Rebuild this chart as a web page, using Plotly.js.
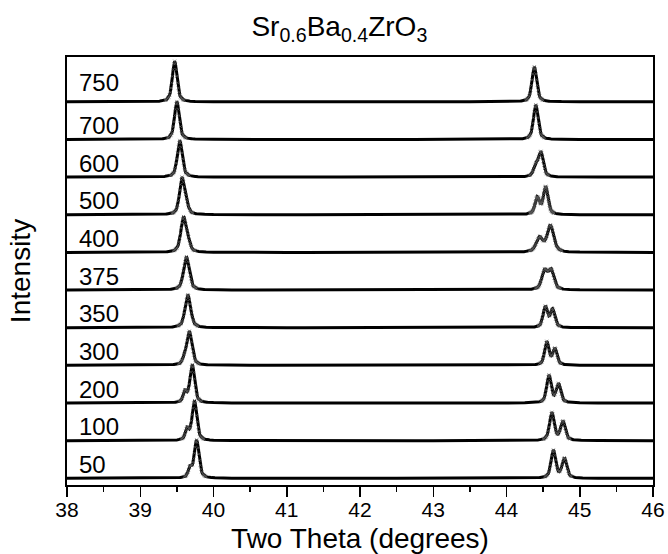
<!DOCTYPE html>
<html>
<head>
<meta charset="utf-8">
<script src="https://cdn.plot.ly/plotly-3.0.1.min.js"></script>
<style>html,body{margin:0;padding:0;background:#fff;}#chart{width:668px;height:554px;}</style>
</head>
<body>
<div id="chart"></div>
<script>
// Sample temperatures (bottom to top)
const temps = ['50','100','200','300','350','375','400','500','600','700','750'];

// Peak near 39.5-39.8 deg
const peakA_pos    = [39.77, 39.74, 39.71, 39.67, 39.65, 39.63, 39.59, 39.57, 39.54, 39.50, 39.47];
const peakA_height = [1.01, 1.055, 1.01, 0.90, 0.88, 0.89, 0.91, 0.965, 0.975, 1.01, 1.08];
const peakA_width  = [0.075, 0.075, 0.075, 0.085, 0.09, 0.09, 0.085, 0.08, 0.08, 0.075, 0.075];
// Shoulder of that peak
const shoulderA_pos    = [39.68, 39.64, 39.61, 39.60, 39.65, 39.63, 39.65, 39.63, 39.54, 39.50, 39.47];
const shoulderA_height = [0.24, 0.28, 0.27, 0.10, 0, 0, 0.22, 0.18, 0, 0, 0];
const shoulderA_width  = [0.06, 0.06, 0.06, 0.06, 0.07, 0.07, 0.07, 0.07, 0.07, 0.07, 0.07];

// Doublet near 44.4-44.8 deg
const peakB1_pos    = [44.64, 44.62, 44.58, 44.55, 44.53, 44.52, 44.45, 44.42, 44.40, 44.40, 44.38];
const peakB1_height = [0.737, 0.74, 0.73, 0.62, 0.545, 0.49, 0.38, 0.44, 0.28, 0.92, 0.93];
const peakB2_pos    = [44.79, 44.77, 44.71, 44.66, 44.63, 44.61, 44.60, 44.535, 44.47, 44.40, 44.38];
const peakB2_height = [0.527, 0.51, 0.50, 0.435, 0.467, 0.50, 0.71, 0.735, 0.64, 0, 0];
const peakB_width   = [0.075, 0.075, 0.072, 0.07, 0.072, 0.09, 0.105, 0.075, 0.075, 0.075, 0.075];

// Normalised peak profile (offset in FWHM units, relative height)
const profileU = [-8, -5, -3, -2, -1.5, -1, -0.75, -0.5, -0.3, -0.15, 0, 0.15, 0.3, 0.5, 0.75, 1, 1.5, 2, 3, 5, 8];
const profileV = [0.0, 0.005, 0.0135, 0.029, 0.051, 0.131, 0.259, 0.5, 0.757, 0.928, 1, 0.928, 0.757, 0.5, 0.259, 0.131, 0.051, 0.029, 0.0135, 0.005, 0.0];

const xTickVals = [38, 39, 40, 41, 42, 43, 44, 45, 46];

function profile(u) {
  if (u <= profileU[0] || u >= profileU[profileU.length - 1]) return 0;
  for (let k = 0; k < profileU.length - 1; k++) {
    if (u >= profileU[k] && u <= profileU[k + 1]) {
      const t = (u - profileU[k]) / (profileU[k + 1] - profileU[k]);
      return profileV[k] + t * (profileV[k + 1] - profileV[k]);
    }
  }
  return 0;
}

const FONT = 'Liberation Sans, Arial, Helvetica, sans-serif';
const traces = [];
const annotations = [];

temps.forEach((lab, i) => {
  const peaks = [
    [peakA_pos[i], peakA_height[i], peakA_width[i]],
    [shoulderA_pos[i], shoulderA_height[i], shoulderA_width[i]],
    [peakB1_pos[i], peakB1_height[i], peakB_width[i]],
    [peakB2_pos[i], peakB2_height[i], peakB_width[i]]
  ].filter(p => p[1] > 0);
  const set = new Set();
  for (let k = 0; k <= 32; k++) set.add((38 + k * 0.25).toFixed(3));
  peaks.forEach(p => {
    for (let j = -25; j <= 25; j++) set.add((p[0] + j * 0.01).toFixed(3));
  });
  const xs = Array.from(set).map(Number).filter(v => v >= 38 && v <= 46).sort((a, b) => a - b);
  const ys = xs.map(x => {
    let s = i;
    peaks.forEach(p => { s += p[1] * profile((x - p[0]) / p[2]); });
    return s;
  });
  const msize = ys.map(v => (v - i > 0.04 ? 3 : 0));
  traces.push({
    x: xs, y: ys, type: 'scatter', mode: 'lines+markers',
    line: {color: '#000', width: 3},
    marker: {symbol: 'x-thin-open', size: msize, color: '#555', line: {color: '#555', width: 1}},
    showlegend: false, hoverinfo: 'skip'
  });
  annotations.push({
    x: 38.14, y: i, xref: 'x', yref: 'y', xanchor: 'left', yanchor: 'middle',
    yshift: (lab === '750') ? 19 : 14,
    text: lab, showarrow: false, font: {family: FONT, size: 24, color: '#000'}
  });
});

const layout = {
  width: 668, height: 554,
  margin: {l: 67, r: 15, t: 57, b: 69},
  paper_bgcolor: '#fff', plot_bgcolor: '#fff',
  font: {family: FONT, color: '#000'},
  title: {
    text: 'Sr<sub>0.6</sub>Ba<sub>0.4</sub>ZrO<sub>3</sub>',
    font: {family: FONT, size: 28, color: '#000'},
    x: 0.508, xref: 'container', xanchor: 'center',
    y: 0.952, yref: 'container', yanchor: 'middle'
  },
  xaxis: {
    range: [38, 46], tickvals: xTickVals, ticktext: xTickVals.map(String),
    ticks: 'outside', ticklen: 10, tickwidth: 1.5, tickcolor: '#000',
    minor: {dtick: 0.5, ticks: 'outside', ticklen: 5, tickwidth: 1.5, tickcolor: '#000'},
    showline: true, linewidth: 2, linecolor: '#000', mirror: true,
    showgrid: false, zeroline: false,
    ticklabelstandoff: -5,
    tickfont: {family: FONT, size: 21, color: '#000'},
    title: {text: 'Two Theta (degrees)', font: {family: FONT, size: 28, color: '#000'}, standoff: 10}
  },
  yaxis: {
    range: [-0.178, 11.19],
    showticklabels: false, ticks: '',
    showline: true, linewidth: 2, linecolor: '#000', mirror: true,
    showgrid: false, zeroline: false,
    title: {text: 'Intensity', font: {family: FONT, size: 28, color: '#000'}, standoff: 26}
  },
  annotations: annotations
};

Plotly.newPlot('chart', traces, layout, {displayModeBar: false, staticPlot: true});
</script>
</body>
</html>
